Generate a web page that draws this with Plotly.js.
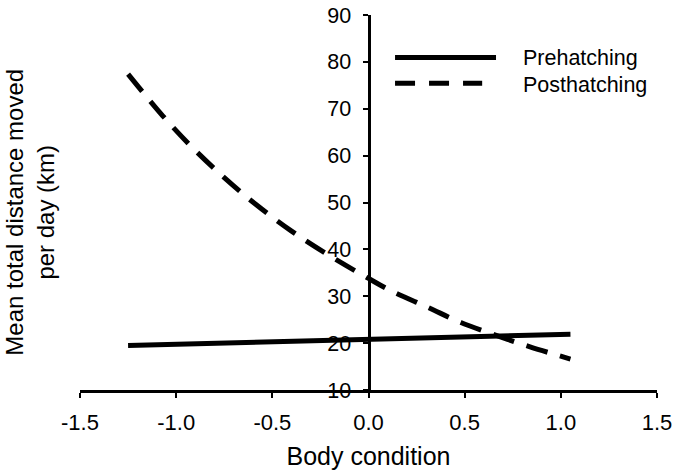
<!DOCTYPE html>
<html>
<head>
<meta charset="utf-8">
<script src="https://cdn.plot.ly/plotly-3.0.1.min.js"></script>
<style>html,body{margin:0;padding:0;background:#fff;}</style>
</head>
<body>
<div id="chart" style="width:673px;height:470px;"></div>
<script>
// Data
var preX = [-1.25, 0, 1.05];
var preY = [19.5, 20.8, 21.9];
var postX = [-1.25, -1.07, -0.92, -0.75, -0.58, -0.40, -0.22, 0, 0.12, 0.31, 0.48, 0.66, 0.84, 1.05];
var postY = [77.4, 68.5, 61.9, 55.3, 49.4, 43.9, 39.1, 33.8, 31.1, 27.6, 24.4, 21.7, 19.2, 16.6];
var seriesNames = ["Prehatching", "Posthatching"];
var xTicks = [-1.5, -1.0, -0.5, 0.0, 0.5, 1.0, 1.5];
var yTicks = [10, 20, 30, 40, 50, 60, 70, 80, 90];
var xTitle = "Body condition";
var yTitle = "Mean total distance moved<br>per day (km)";

var FONT = "Liberation Sans, Arial, Helvetica, sans-serif";

var traces = [
  {x: preX, y: preY, mode: "lines", name: seriesNames[0],
   line: {color: "#000", width: 5}, showlegend: false},
  {x: postX, y: postY, mode: "lines", name: seriesNames[1],
   line: {color: "#000", width: 5, dash: "22px,13px", shape: "spline"}, showlegend: false}
];

var layout = {
  width: 673, height: 470,
  margin: {l: 80, r: 16, t: 15, b: 80},
  paper_bgcolor: "#fff", plot_bgcolor: "#fff",
  font: {family: FONT, size: 21, color: "#000"},
  showlegend: false,
  xaxis: {
    range: [-1.5, 1.5], tickvals: xTicks, ticktext: xTicks.map(function(v){return v.toFixed(1);}),
    showline: true, linewidth: 3, linecolor: "#000",
    ticks: "outside", ticklen: 5, tickwidth: 2, tickcolor: "#000",
    ticklabelstandoff: 6,
    showgrid: false, zeroline: false,
    tickfont: {family: FONT, size: 22},
    title: {text: xTitle, font: {family: FONT, size: 25}, standoff: 22}
  },
  yaxis: {
    range: [10, 90], tickvals: yTicks,
    anchor: "free", position: 0.5,
    showline: true, linewidth: 3, linecolor: "#000",
    ticks: "outside", ticklen: 5, tickwidth: 2, tickcolor: "#000",
    ticklabelstandoff: 7,
    showgrid: false, zeroline: false,
    tickfont: {family: FONT, size: 21.5}
  },
  shapes: [
    {type: "line", xref: "paper", yref: "paper", x0: 0.546, x1: 0.721, y0: 0.887, y1: 0.887,
     line: {color: "#000", width: 5}},
    {type: "line", xref: "paper", yref: "paper", x0: 0.546, x1: 0.697, y0: 0.818, y1: 0.818,
     line: {color: "#000", width: 5, dash: "20px,14px"}}
  ],
  annotations: [
    {text: seriesNames[0], xref: "paper", yref: "paper", x: 0.764, y: 0.885,
     xanchor: "left", yanchor: "middle", showarrow: false, font: {family: FONT, size: 21.5}},
    {text: seriesNames[1], xref: "paper", yref: "paper", x: 0.764, y: 0.813,
     xanchor: "left", yanchor: "middle", showarrow: false, font: {family: FONT, size: 21.5}},
    {text: yTitle, xref: "paper", yref: "paper", x: -0.087, y: 0.475, textangle: -90,
     xanchor: "center", yanchor: "middle", showarrow: false, font: {family: FONT, size: 24}}
  ]
};

Plotly.newPlot("chart", traces, layout, {displayModeBar: false, staticPlot: true});
</script>
</body>
</html>
